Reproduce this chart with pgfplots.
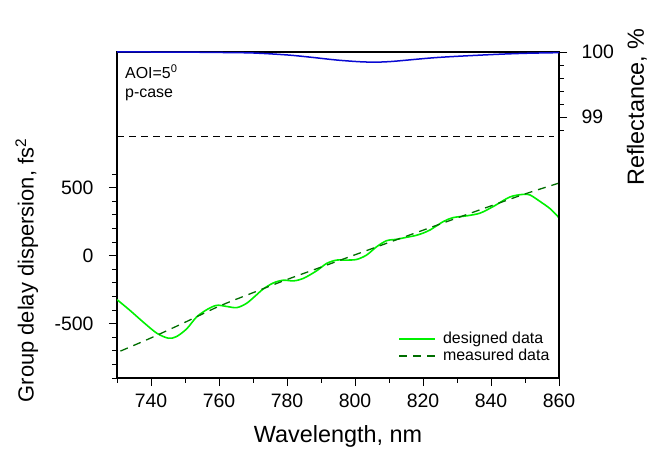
\documentclass[border=0pt]{standalone}
\usepackage{fontspec}
\setmainfont{Liberation Sans}
\usepackage{pgfplots}
\pgfplotsset{compat=1.18}
\definecolor{lime}{RGB}{0,240,0}
\definecolor{dgreen}{RGB}{0,110,0}
\definecolor{rblue}{RGB}{10,10,210}
\begin{document}
\begin{tikzpicture}
\useasboundingbox (0,0) rectangle (650bp,453bp);
\begin{axis}[
  at={(117bp,75bp)}, anchor=south west,
  width=442bp, height=326bp, scale only axis,
  xmin=730, xmax=860, ymin=-900, ymax=1500,
  xtick={740,760,...,860}, minor xtick={730,750,...,850},
  ytick={-500,0,500},
  minor ytick={-900,-800,-700,-600,-400,-300,-200,-100,100,200,300,400,600},
  xtick pos=bottom, ytick pos=left, tick align=outside,
  major tick length=8bp, minor tick length=4.5bp,
  tick style={black, line width=1bp},
  axis line style={line width=1.2bp},
  /pgf/number format/assume math mode=true,
  ticklabel style={font=\fontsize{19.5}{19.5}\selectfont},
  yticklabel style={xshift=-12bp},
  xticklabel style={yshift=-4bp},
  xlabel={Wavelength, nm},
  ylabel={Group delay dispersion, fs\textsuperscript{2}},
  label style={font=\fontsize{22}{22}\selectfont},
  xlabel style={at={(axis description cs:0.5,-0.178)}, anchor=center,
    font=\fontsize{23.5}{23.5}\selectfont},
  ylabel style={at={(axis description cs:-0.204,0.33)}, anchor=center},
  legend style={at={(0.99,0.035)}, anchor=south east, draw=none, fill=none,
    font=\fontsize{16}{16}\selectfont, row sep=0bp},
  legend cell align=left,
  legend image code/.code={\draw[#1] (0bp,0bp) -- (36bp,0bp); \path (41bp,0bp);},
]
\addplot[lime, line width=1.6bp, smooth] coordinates {
(730,-323) (733.8,-402) (737.7,-488) (741.7,-570) (745.1,-607) (747.5,-595)
(750.5,-538) (753.4,-451) (756.4,-397) (759.3,-365) (762.2,-373) (765.2,-382)
(768,-352) (770.5,-300) (773,-245) (776,-200) (778.9,-180) (781.9,-185)
(784.8,-167) (788.7,-111) (791.7,-56) (794.6,-32) (797.5,-32) (800.5,-27)
(803.4,5) (806.4,67) (809.3,111) (812.2,121) (815.2,136) (817.5,147)
(819.5,162) (822.1,190) (826,252) (828.9,281) (832.9,294) (836.8,314)
(840.7,363) (845.6,433) (849.5,452) (851.5,447) (854.4,400) (857.4,346) (860,280)
};
\addlegendentry{designed data}
\addplot[dgreen, line width=1.3bp, dash pattern=on 8bp off 6bp, smooth] coordinates {
(731,-702) (740,-605) (750,-490) (760,-372) (770,-272) (780,-175) (790,-84)
(800,7) (810,98) (820,188) (830,278) (840,367) (850,455) (860,535)
};
\addlegendentry{measured data}
\node[anchor=north west, align=left, inner sep=0pt,
  font=\fontsize{16}{19}\selectfont]
  at (axis description cs:0.018,0.962) {AOI=5\textsuperscript{0}\\p-case};
\end{axis}
\begin{axis}[
  at={(117bp,75bp)}, anchor=south west,
  width=442bp, height=326bp, scale only axis,
  xmin=730, xmax=860, ymin=95, ymax=100,
  axis x line=none, axis y line*=right,
  ytick={99,100}, minor ytick={98.8,99.2,99.4,99.6,99.8},
  tick align=outside,
  major tick length=8bp, minor tick length=4.5bp,
  tick style={black, line width=1bp},
  axis line style={line width=1.2bp},
  /pgf/number format/assume math mode=true,
  ticklabel style={font=\fontsize{19.5}{19.5}\selectfont},
  yticklabel style={xshift=11bp},
  ylabel={Reflectance, \%},
  label style={font=\fontsize{23.5}{23.5}\selectfont},
  ylabel style={at={(axis description cs:1.176,0.831)}, anchor=center},
  clip=false,
]
\addplot[black, line width=1.2bp, dash pattern=on 7bp off 5bp] coordinates {(730,98.7) (858.5,98.7)};
\addplot[rblue, line width=1.5bp, smooth] coordinates {
(730,100) (740,100) (750,99.998) (760,99.993) (770,99.985) (780,99.955) (787,99.92)
(795,99.875) (803,99.847) (810,99.852) (824,99.915) (840,99.96) (850,99.98) (860,99.99)
};
\end{axis}
\end{tikzpicture}
\end{document}
